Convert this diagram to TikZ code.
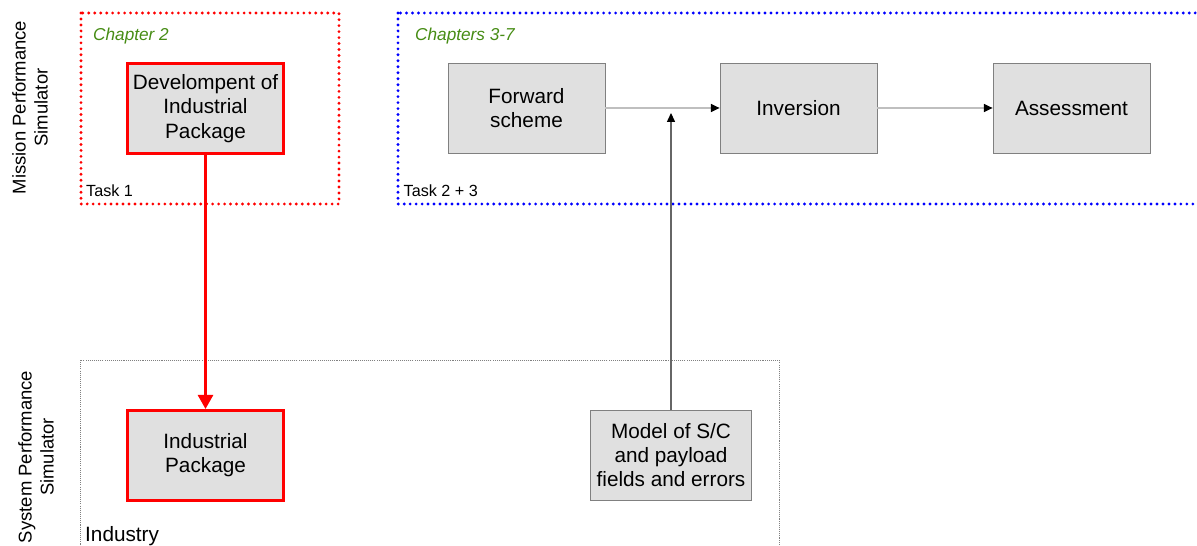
\documentclass[tikz,border=0pt]{standalone}
\usepackage{fontspec}
\setmainfont{Liberation Sans}
\usetikzlibrary{arrows.meta}
\definecolor{chapgreen}{RGB}{70,140,20}
\definecolor{boxgray}{RGB}{224,224,224}
\begin{document}
\begin{tikzpicture}[
 box/.style={draw=black!50, fill=boxgray, minimum width=3.14cm, minimum height=1.8cm, align=center, font=\fontsize{11.8}{13.8}\selectfont},
 redbox/.style={box, draw=red, line width=1.7pt, minimum width=3.12cm, minimum height=1.8cm},
 flow/.style={draw=black!25, line width=0.9pt, -{Triangle[black,length=5pt,width=4.5pt]}},
 feed/.style={draw=black!60, line width=0.6pt, -{Triangle[black,length=5pt,width=4.5pt]}},
 chap/.style={anchor=west, text=chapgreen, font=\fontsize{9.8}{11}\selectfont\itshape},
 task/.style={anchor=west, font=\fontsize{9.2}{11}\selectfont},
 side/.style={rotate=90, align=center, font=\fontsize{10.5}{12.5}\selectfont},
 dots/.style={line width=1.8pt, dash pattern=on 0pt off 3.4pt, line cap=round}]
 \clip (0,0) rectangle (23.94,-10.92);
 \useasboundingbox (0,0) rectangle (23.94,-10.92);
 % frames
 \draw[dots, red] (1.62,-0.26) rectangle (6.78,-4.08);
 \draw[dots, blue] (7.96,-0.26) rectangle (24.3,-4.08);
 \draw[black!50, line width=0.4pt, dash pattern=on 0.6pt off 0.6pt] (1.6,-7.2) rectangle (15.58,-11.4);
 \node[chap] (ch2) at (1.74,-0.72) {Chapter 2};
 \node[chap] (ch37) at (8.18,-0.72) {Chapters 3-7};
 \node[task] (t1) at (1.6,-3.82) {Task 1};
 \node[task] (t23) at (7.95,-3.82) {Task 2 + 3};
 \node[anchor=west, font=\fontsize{11.8}{13.8}\selectfont] (ind) at (1.58,-10.72) {Industry};
 \node[side] (mps) at (0.6,-2.15) {Mission Performance\\Simulator};
 \node[side] (sps) at (0.72,-9.14) {System Performance\\Simulator};
 % boxes
 \node[redbox] (dev) at (4.11,-2.17) {Develompent of\\Industrial\\Package};
 \node[redbox] (pack) at (4.11,-9.11) {Industrial\\Package};
 \node[box] (fwd) at (10.53,-2.16) {Forward\\scheme};
 \node[box] (inv) at (15.97,-2.16) {Inversion};
 \node[box] (ass) at (21.43,-2.16) {Assessment};
 \node[box] (model) at (13.42,-9.10) {Model of S/C\\and payload\\fields and errors};
 % connectors
 \coordinate (join) at (model.north |- fwd.east);
 \draw[flow] (fwd) -- (inv);
 \draw[flow] (inv) -- (ass);
 \draw[feed] (model) -- ([yshift=-0.1cm]join);
 \draw[red, line width=1.7pt, -{Triangle[length=8pt,width=8.5pt]}] (dev) -- (pack);
\end{tikzpicture}
\end{document}
